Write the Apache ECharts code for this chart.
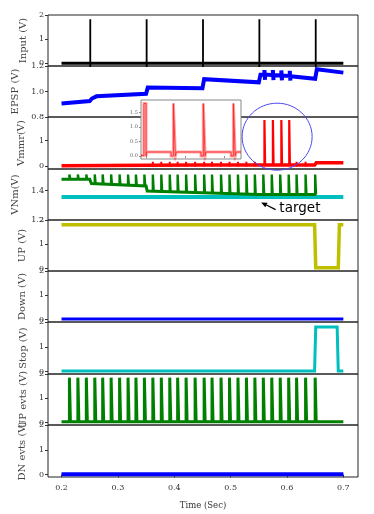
<!DOCTYPE html>
<html>
<head>
<meta charset="utf-8">
<script src="https://cdn.jsdelivr.net/npm/echarts@6/dist/echarts.min.js"></script>
<style>
  html, body { margin: 0; padding: 0; background: #fff; }
  #chart { width: 374px; height: 514px; }
</style>
</head>
<body>
<div id="chart"></div>
<script>
// ---- data ----
const panelNames = ['Input (V)', 'EPSP (V)', 'Vmmr(V)', 'VNm(V)', 'UP (V)', 'Down (V)', 'Stop (V)', 'UP evts (V)', 'DN evts (V)']
const timeTicks = [0.2, 0.3, 0.4, 0.5, 0.6, 0.7]

// input pulses
const inputSpikeTimes = [0.251, 0.351, 0.451, 0.551, 0.651]
const inputSpikeTop = 1.82

// EPSP trace
const epspT = [0.200, 0.250, 0.254, 0.262, 0.350, 0.353, 0.450, 0.453, 0.550, 0.553,
  0.560, 0.560, 0.561, 0.561, 0.575, 0.575, 0.576, 0.576, 0.590, 0.590, 0.591, 0.591,
  0.605, 0.605, 0.606, 0.606, 0.650, 0.653, 0.700]
const epspV = [0.906, 0.925, 0.945, 0.962, 0.982, 1.032, 1.026, 1.097, 1.072, 1.132,
  1.133, 1.168, 1.092, 1.133, 1.128, 1.168, 1.090, 1.128, 1.126, 1.165, 1.088, 1.125,
  1.122, 1.162, 1.086, 1.120, 1.100, 1.175, 1.148]

// UP events (30 pulses)
const upEvtTimes = [0.214, 0.229, 0.244, 0.259, 0.273, 0.288, 0.303, 0.318, 0.332, 0.347,
  0.362, 0.377, 0.392, 0.406, 0.421, 0.437, 0.453, 0.467, 0.483, 0.498,
  0.513, 0.528, 0.543, 0.558, 0.573, 0.588, 0.603, 0.617, 0.633, 0.650]
const upEvtTop = 1.85

// Vmmr trace
const vmmrBaseT = [0.200, 0.350, 0.450, 0.550, 0.649, 0.652, 0.700]
const vmmrBaseV = [0.01, 0.03, 0.04, 0.04, 0.04, 0.13, 0.13]
const vmmrBumpT = [0.362, 0.377, 0.392, 0.406, 0.421, 0.437, 0.453, 0.467, 0.483, 0.498,
  0.513, 0.528, 0.543, 0.617, 0.633]
const vmmrBumpRange = [-0.02, 0.17]
const vmmrSpikeT = [0.560, 0.575, 0.590, 0.604]
const vmmrSpikeRange = [0.04, 1.82]

// VNm trace
const vnmStepT = [0.200, 0.250, 0.253, 0.350, 0.352, 0.450, 0.452, 0.550, 0.552, 0.652]
const vnmStepV = [1.475, 1.475, 1.447, 1.430, 1.396, 1.385, 1.378, 1.372, 1.372, 1.372]
const vnmEvtBase = [1.475, 1.475, 1.475, 1.445, 1.443, 1.440, 1.437, 1.435, 1.432, 1.430,
  1.395, 1.393, 1.391, 1.389, 1.387, 1.385, 1.378, 1.377, 1.376, 1.375,
  1.374, 1.373, 1.372, 1.372, 1.372, 1.372, 1.372, 1.372, 1.372, 1.372]
const vnmTop = 1.508
const targetT = [0.2, 0.7]
const targetV = [1.355, 1.355]

// UP / Down / Stop
const upT = [0.200, 0.649, 0.651, 0.691, 0.693, 0.700]
const upV = [1.80, 1.80, 0.03, 0.03, 1.80, 1.80]
const downT = [0.2, 0.7]
const downV = [0.02, 0.02]
const stopT = [0.200, 0.649, 0.651, 0.689, 0.691, 0.700]
const stopV = [0.02, 0.02, 1.80, 1.80, 0.02, 0.02]
const dnEvtT = [0.2, 0.7]
const dnEvtV = [0.01, 0.01]

// inset (zoom of the Vmmr spikes)
const insetT = [0.5571, 0.5586, 0.5586, 0.5597, 0.5597, 0.5600, 0.5600, 0.5726, 0.5726, 0.5738,
  0.5738, 0.5748, 0.5748, 0.5753, 0.5753, 0.5880, 0.5880, 0.5892, 0.5892, 0.5901,
  0.5901, 0.5905, 0.5905, 0.6035, 0.6035, 0.6047, 0.6047, 0.6056, 0.6056, 0.6061,
  0.6061, 0.6086]
const insetV = [0.02, 0.02, 1.8, 1.8, 0.0, 0.0, 0.14, 0.14, 0.0, 0.0,
  1.8, 1.8, 0.0, 0.0, 0.14, 0.14, 0.0, 0.0, 1.8, 1.8,
  0.0, 0.0, 0.14, 0.14, 0.0, 0.0, 1.8, 1.8, 0.0, 0.0,
  0.14, 0.14]
const insetXTicks = [0.56, 0.58, 0.60]
const insetYTicks = [0, 0.5, 1.0, 1.5]

// ---- layout ----
const panelTops = [15, 66, 117, 169, 220, 271, 322, 374, 425]
const panelBottom = 477
const serif = 'DejaVu Serif'

const zip = (ts, vs) => ts.map((t, i) => [t, vs[i]])

// narrow rectangular pulses, broken apart with empty points
function pulses(times, bases, top, w) {
  const out = []
  times.forEach((t, i) => {
    const b = Array.isArray(bases) ? bases[i] : bases
    out.push([t, b], [t, top], [t + w, top], [t + w, b], [t + w, '-'])
  })
  return out
}
function sticks(times, range) {
  const out = []
  times.forEach(t => { out.push([t, range[0]], [t, range[1]], [t, '-']) })
  return out
}

// y axis settings per panel: min, max, tick values, decimals, nameGap
const yCfg = [
  [-0.11, 2.0, [0, 1, 2], 0, 20],
  [0.8, 1.2, [0.8, 1.0, 1.2], 1, 27],
  [-0.12, 1.94, [0, 1], 0, 22],
  [1.2, 1.545, [1.2, 1.4], 1, 27],
  [-0.1, 2.0, [0, 1, 2], 0, 21],
  [-0.1, 2.0, [0, 1, 2], 0, 21],
  [-0.1, 2.0, [0, 1, 2], 0, 18],
  [-0.1, 2.0, [0, 1, 2], 0, 20],
  [-0.1, 2.0, [0, 1, 2], 0, 21]
]

const grids = []
const xAxes = []
const yAxes = []
panelTops.forEach((top, i) => {
  const bottom = i < 8 ? panelTops[i + 1] : panelBottom
  grids.push({
    left: 48, width: 310, top: top, height: bottom - top,
    show: true, borderColor: '#222', borderWidth: 1, backgroundColor: 'transparent'
  })
  const last = i === 8
  xAxes.push({
    gridIndex: i, type: 'value', min: 0.176, max: 0.726,
    axisLine: { show: false },
    splitLine: { show: false },
    axisTick: { show: last, length: 3, customValues: timeTicks, lineStyle: { color: '#333' } },
    axisLabel: {
      show: last, customValues: timeTicks, margin: 7,
      fontFamily: serif, fontSize: 8, color: '#333',
      formatter: v => v.toFixed(1)
    },
    name: last ? 'Time (Sec)' : '',
    nameLocation: 'middle', nameGap: 24,
    nameTextStyle: { fontFamily: serif, fontSize: 8.5, color: '#333' }
  })
  const c = yCfg[i]
  yAxes.push({
    gridIndex: i, type: 'value', min: c[0], max: c[1],
    axisLine: { show: false },
    splitLine: { show: false },
    axisTick: { show: true, length: 3, customValues: c[2], lineStyle: { color: '#333' } },
    axisLabel: {
      customValues: c[2], margin: 4,
      fontFamily: serif, fontSize: 8, color: '#333',
      formatter: v => v.toFixed(c[3])
    },
    name: panelNames[i], nameLocation: 'middle', nameGap: c[4],
    nameTextStyle: { fontFamily: serif, fontSize: 10, color: '#444' }
  })
})

// inset axes
grids.push({
  left: 141, top: 100, width: 100, height: 59,
  show: true, backgroundColor: '#fff', borderColor: '#888', borderWidth: 1, z: 20
})
xAxes.push({
  gridIndex: 9, type: 'value', min: 0.5571, max: 0.6086, z: 21,
  axisLine: { show: false }, splitLine: { show: false },
  axisTick: { show: true, length: 2, customValues: insetXTicks, lineStyle: { color: '#888' } },
  axisLabel: { show: false }
})
yAxes.push({
  gridIndex: 9, type: 'value', min: -0.1, max: 1.92, z: 21,
  axisLine: { show: false }, splitLine: { show: false },
  axisTick: { show: true, length: 2, customValues: insetYTicks, lineStyle: { color: '#888' } },
  axisLabel: {
    customValues: insetYTicks, margin: 3,
    fontFamily: serif, fontSize: 5, color: '#666',
    formatter: v => v.toFixed(1)
  }
})

function line(idx, data, color, width, extra) {
  return Object.assign({
    type: 'line', xAxisIndex: idx, yAxisIndex: idx, data: data,
    showSymbol: false, symbol: 'none', connectNulls: false, animation: false,
    silent: true,
    lineStyle: { color: color, width: width, cap: 'butt', join: 'miter' }
  }, extra || {})
}

const BLUE = '#0000ff'
const GREEN = '#008000'
const RED = '#ff0000'
const CYAN = '#00bfbf'
const OLIVE = '#bfbf00'

const series = [
  line(0, [[0.2, 0], [0.7, 0]], '#000', 3),
  line(0, sticks(inputSpikeTimes, [-0.2, inputSpikeTop]), '#000', 1.8),
  line(1, zip(epspT, epspV), BLUE, 4),
  line(2, zip(vmmrBaseT, vmmrBaseV), RED, 3.5),
  line(2, sticks(vmmrBumpT, vmmrBumpRange), RED, 2),
  line(2, pulses(vmmrSpikeT, vmmrSpikeRange[0], vmmrSpikeRange[1], 0.0012), RED, 2.2),
  line(3, zip(targetT, targetV), CYAN, 4),
  line(3, zip(vnmStepT, vnmStepV), GREEN, 3),
  line(3, pulses(upEvtTimes, vnmEvtBase, vnmTop, 0.0015), GREEN, 2.4),
  line(4, zip(upT, upV), OLIVE, 3.5),
  line(5, zip(downT, downV), BLUE, 3),
  line(6, zip(stopT, stopV), CYAN, 3),
  line(7, [[0.2, 0.03], [0.7, 0.03]], GREEN, 3),
  line(7, pulses(upEvtTimes, 0.03, upEvtTop, 0.0018), GREEN, 3),
  line(8, zip(dnEvtT, dnEvtV), BLUE, 4),
  line(9, zip(insetT, insetV), 'rgba(255,0,0,0.35)', 3, { z: 22 }),
  line(9, zip(insetT, insetV), '#ff2020', 0.8, { z: 23 })
]

const chart = echarts.init(document.getElementById('chart'), null, { renderer: 'canvas' })
chart.setOption({
  animation: false,
  backgroundColor: '#fff',
  grid: grids,
  xAxis: xAxes,
  yAxis: yAxes,
  series: series
})

// annotations: highlight circle, "target" label with arrow (placed in data coords)
const circleAt = chart.convertToPixel({ gridIndex: 2 }, [0.5825, 1.16])
const arrowTail = chart.convertToPixel({ gridIndex: 3 }, [0.5798, 1.2707])
const arrowTip = chart.convertToPixel({ gridIndex: 3 }, [0.5541, 1.3192])
const labelAt = chart.convertToPixel({ gridIndex: 3 }, [0.5865, 1.2774])

const dx = arrowTip[0] - arrowTail[0]
const dy = arrowTip[1] - arrowTail[1]
const len = Math.sqrt(dx * dx + dy * dy)
const ux = dx / len
const uy = dy / len
const headLen = 6
const headHalf = 2.6
const base = [arrowTip[0] - ux * headLen, arrowTip[1] - uy * headLen]

chart.setOption({
  graphic: [
    {
      type: 'ellipse', z: 100,
      shape: { cx: circleAt[0], cy: circleAt[1], rx: 35, ry: 33.5 },
      style: { fill: null, stroke: '#4a4af0', lineWidth: 1 }
    },
    {
      type: 'line', z: 100,
      shape: { x1: arrowTail[0], y1: arrowTail[1], x2: base[0], y2: base[1] },
      style: { stroke: '#000', lineWidth: 1.3 }
    },
    {
      type: 'polygon', z: 100,
      shape: {
        points: [
          arrowTip,
          [base[0] - uy * headHalf, base[1] + ux * headHalf],
          [base[0] + uy * headHalf, base[1] - ux * headHalf]
        ]
      },
      style: { fill: '#000' }
    },
    {
      type: 'text', z: 100,
      x: labelAt[0], y: labelAt[1],
      style: {
        text: 'target', fill: '#000',
        font: '13.5px "DejaVu Sans"',
        textAlign: 'left', textVerticalAlign: 'middle'
      }
    }
  ]
})
</script>
</body>
</html>
